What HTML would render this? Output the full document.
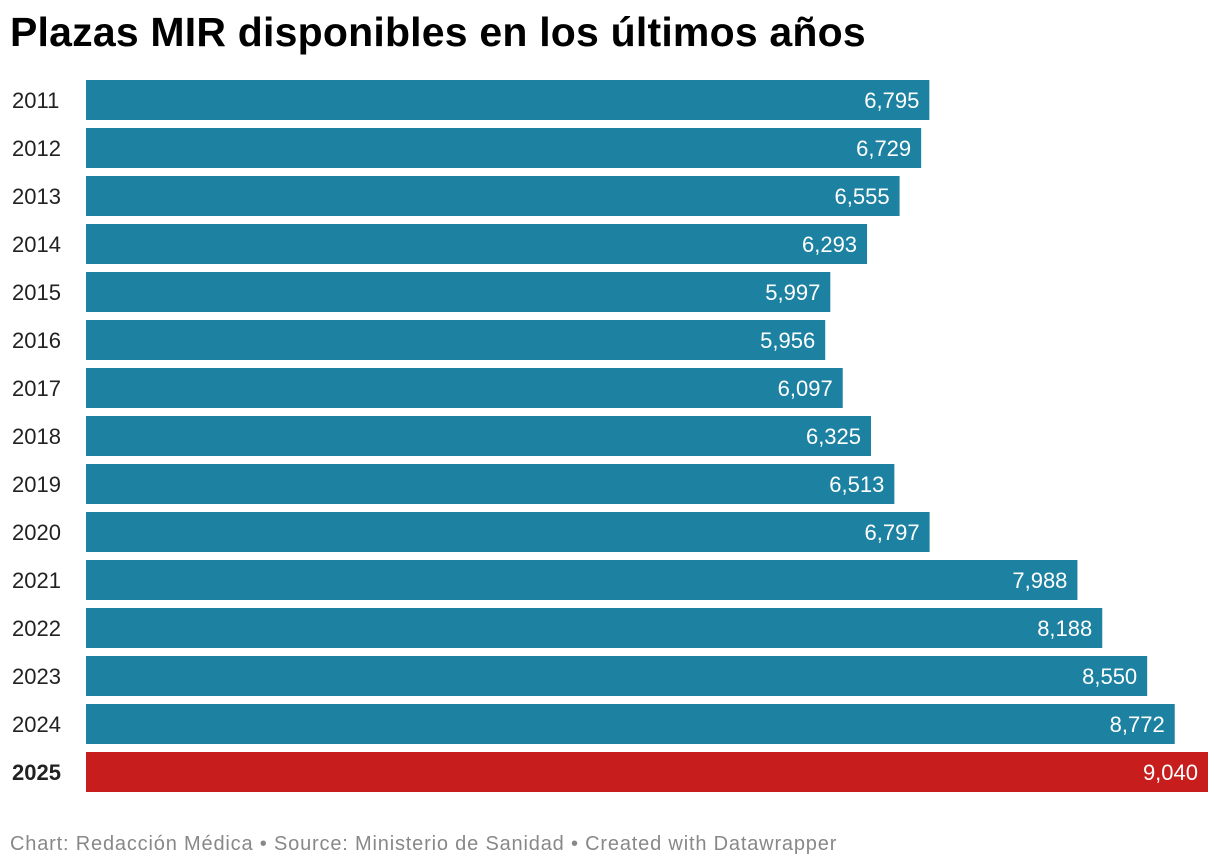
<!DOCTYPE html>
<html><head><meta charset="utf-8"><style>
body{margin:0;width:1220px;height:868px;background:#fff;font-family:"Liberation Sans",sans-serif;overflow:hidden;position:relative}
h1{position:absolute;left:10px;top:9px;margin:0;font-size:41px;font-weight:bold;color:#000;letter-spacing:0.2px}
.foot{position:absolute;left:10px;top:833px;font-size:20px;color:#888;letter-spacing:0.82px}
</style></head><body>
<h1>Plazas MIR disponibles en los últimos años</h1>
<svg id="chart" width="1220" height="868" style="position:absolute;left:0;top:0"></svg>
<div class="foot">Chart: Redacción Médica • Source: Ministerio de Sanidad • Created with Datawrapper</div>
<script>
const years=["2011","2012","2013","2014","2015","2016","2017","2018","2019","2020","2021","2022","2023","2024","2025"];
const values=[6795,6729,6555,6293,5997,5956,6097,6325,6513,6797,7988,8188,8550,8772,9040];
const highlight=["2025"];
const svg=document.getElementById('chart');
const NS='http://www.w3.org/2000/svg';
const x0=86,x1=1208,maxV=Math.max(...values);
const xs=v=>x0+(v/maxV)*(x1-x0);
const ys=i=>80+i*48;
years.forEach((yr,i)=>{
  const hl=highlight.includes(yr);
  const r=document.createElementNS(NS,'rect');
  r.setAttribute('x',x0);r.setAttribute('y',ys(i));
  r.setAttribute('width',xs(values[i])-x0);r.setAttribute('height',40);
  r.setAttribute('fill',hl?'#c71e1d':'#1d81a2');
  
  
  svg.appendChild(r);
  const l=document.createElementNS(NS,'text');
  l.setAttribute('x',12);l.setAttribute('y',ys(i)+28);
  l.setAttribute('font-size','22');l.setAttribute('fill','#222');
  if(hl)l.setAttribute('font-weight','bold');
  l.textContent=yr;
  
  
  svg.appendChild(l);
  const t=document.createElementNS(NS,'text');
  t.setAttribute('x',xs(values[i])-10);t.setAttribute('y',ys(i)+28);
  t.setAttribute('font-size','22');t.setAttribute('fill','#fff');t.setAttribute('text-anchor','end');
  t.textContent=values[i].toLocaleString('en-US');
  
  
  svg.appendChild(t);
});
</script>
</body></html>
